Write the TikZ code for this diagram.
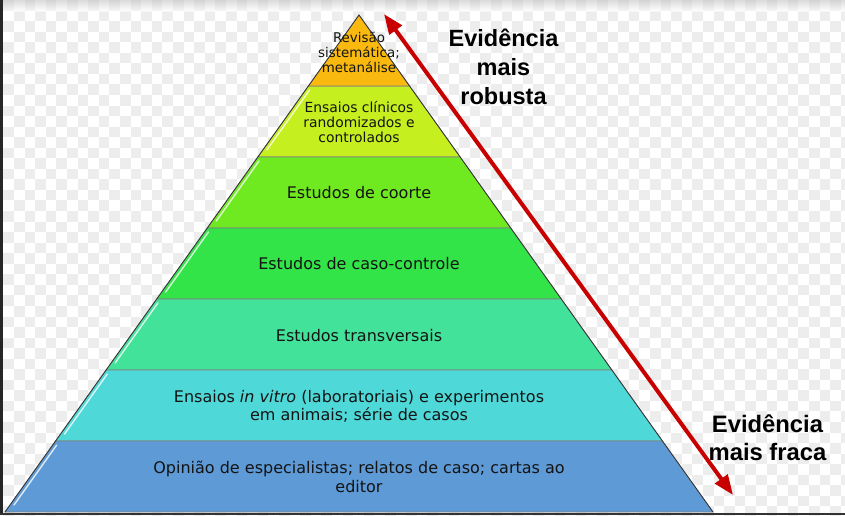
\documentclass[tikz,border=0pt]{standalone}
\usepackage{fontspec}
\setmainfont{DejaVu Sans}
\newfontfamily\arialbold{Liberation Sans}[BoldFont={* Bold}]
\usetikzlibrary{arrows.meta}
\definecolor{cA}{HTML}{FAB90F}
\definecolor{cB}{HTML}{C6EF1F}
\definecolor{cC}{HTML}{70EA20}
\definecolor{cD}{HTML}{32E448}
\definecolor{cE}{HTML}{43E29A}
\definecolor{cF}{HTML}{4FD8D8}
\definecolor{cG}{HTML}{5D9AD6}
\definecolor{chk}{HTML}{EDEDED}
\definecolor{arrowred}{HTML}{C80000}
\tikzset{
  layertext/.style={align=center, text=black!92, inner sep=0pt},
  sidelabel/.style={align=center, text=black, inner sep=0pt, font=\arialbold\bfseries\fontsize{23.5}{29}\selectfont},
  layerbox/.style={draw=black!50, line width=0.7pt},
  gloss/.style={draw=white, line width=1.4pt, opacity=0.8, line cap=round},
  bigarrow/.style={draw=arrowred, line width=4pt, {Triangle[length=20pt,width=15pt]}-{Triangle[length=20pt,width=15pt]}}
}
\begin{document}
\begin{tikzpicture}[x=1pt,y=-1pt]
\useasboundingbox (0,0) rectangle (845,515);
% background checkerboard
\fill[white] (0,0) rectangle (845,515);
\foreach \j in {0,...,48}{
  \ifodd\j \def\st{1}\def\nd{3}\else\def\st{0}\def\nd{2}\fi
  \foreach \i in {\st,\nd,...,79}{
    \fill[chk] ({3.3+\i*10.6},{\j*10.55}) rectangle ++(10.6,10.55);
  }
}
\shade[top color=black!25, bottom color=white, opacity=0.55] (0,0) rectangle (845,11);
\fill[black!85] (0,0) rectangle (3,515);
\fill[black!80] (0,512.8) rectangle (845,515);
% layers
\foreach \yt/\yb/\col in {86/157/cB,157/228/cC,228/299/cD,299/370/cE,370/441/cF,441/512/cG}{
  \filldraw[layerbox, fill=\col]
    ({359-(\yb-15)*0.71227},\yb) -- ({359+(\yb-15)*0.71227},\yb)
    -- ({359+(\yt-15)*0.71227},\yt) -- ({359-(\yt-15)*0.71227},\yt) -- cycle;
  \draw[gloss] ({359-(\yb-7-15)*0.71227+4},{\yb-7}) -- ({359-(\yt+4-15)*0.71227+4},{\yt+4});
}
\filldraw[layerbox, fill=cA] ({359-71*0.71227},86) -- ({359+71*0.71227},86) -- (359,15) -- cycle;
\draw[black!80, line width=0.8pt] (5,512) -- (359,15) -- (713,512);
% texts
\node[layertext, font=\fontsize{13.4}{15}\selectfont] (t1) at (359,52) {Revisão\\sistemática;\\metanálise};
\node[layertext, font=\fontsize{13.9}{15}\selectfont] (t2) at (359,122.5) {Ensaios clínicos\\randomizados e\\controlados};
\node[layertext, font=\fontsize{16}{19}\selectfont] (t3) at (359,192.5) {Estudos de coorte};
\node[layertext, font=\fontsize{16}{19}\selectfont] (t4) at (359,264) {Estudos de caso-controle};
\node[layertext, font=\fontsize{16}{19}\selectfont] (t5) at (359,335.5) {Estudos transversais};
\node[layertext, font=\fontsize{16}{18.5}\selectfont] (t6) at (359,406.5) {Ensaios \textit{in vitro} (laboratoriais) e experimentos\\em animais; série de casos};
\node[layertext, font=\fontsize{16}{19}\selectfont] (t7) at (359,477) {Opinião de especialistas; relatos de caso; cartas ao\\editor};
\node[sidelabel] (robust) at (503.5,67) {Evidência\\mais\\robusta};
\node[sidelabel, font=\arialbold\bfseries\fontsize{23.8}{27.5}\selectfont] (weak) at (767.5,437.5) {Evidência\\mais fraca};
% arrow
\coordinate (atop) at (384,14);
\coordinate (abot) at (733,495);
\draw[bigarrow] (abot) -- (atop);
\end{tikzpicture}
\end{document}
